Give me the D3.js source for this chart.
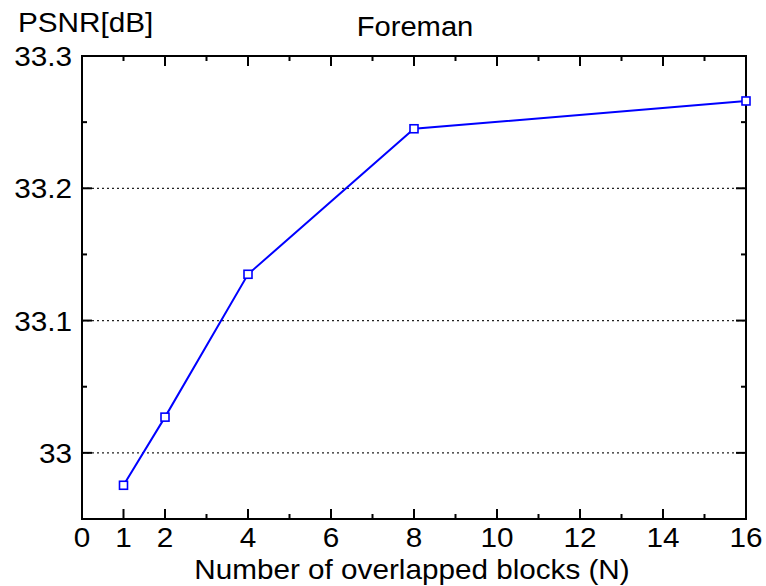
<!DOCTYPE html>
<html><head><meta charset="utf-8">
<script src="https://cdn.jsdelivr.net/npm/d3@7"></script>
<style>
body{margin:0;background:#fff;}
svg text{font-family:"Liberation Sans",Arial,sans-serif;fill:#000;}
</style></head>
<body><svg id="c" width="766" height="586"></svg>
<script>
const blocks = [1, 2, 4, 8, 16];
const psnr = [32.9755, 33.027, 33.135, 33.245, 33.266];
const xTickLabels = [0, 1, 2, 4, 6, 8, 10, 12, 14, 16];
const xMinorTicks = d3.range(0, 17, 1);
const yTickLabels = [33, 33.1, 33.2, 33.3];
const yTickText = ["33", "33.1", "33.2", "33.3"];
const yMinorTicks = [32.95, 33.05, 33.15, 33.25];
const gridValues = [33, 33.1, 33.2];
const title = "Foreman";
const yTitle = "PSNR[dB]";
const xTitle = "Number of overlapped blocks (N)";

const svg = d3.select("#c");
const L = 82, R = 746, T = 56, B = 519;
const x = d3.scaleLinear().domain([0, 16]).range([L, R]);
const y = d3.scaleLinear().domain([32.95, 33.3]).range([B, T]);

function label(g, px, py, str, anchor, size, sx) {
  return g.append("text")
    .attr("transform", `translate(${px},${py}) scale(${sx},1)`)
    .attr("text-anchor", anchor).attr("font-size", size).text(str);
}

// grid
svg.append("g").selectAll("line").data(gridValues).join("line")
  .attr("x1", L).attr("x2", R).attr("y1", d => y(d)).attr("y2", d => y(d))
  .attr("stroke", "#222").attr("stroke-width", 1.3).attr("stroke-dasharray", "2,3");

// ticks
const tk = svg.append("g").attr("stroke", "#000").attr("stroke-width", 2);
const xMajorSet = new Set(xTickLabels);
xMinorTicks.forEach(v => {
  const lenB = xMajorSet.has(v) ? 10 : 5;
  const lenT = (v % 2 === 0) ? 10 : 5;
  tk.append("line").attr("x1", x(v)).attr("x2", x(v)).attr("y1", B).attr("y2", B - lenB);
  tk.append("line").attr("x1", x(v)).attr("x2", x(v)).attr("y1", T).attr("y2", T + lenT);
});
yTickLabels.forEach(v => {
  tk.append("line").attr("x1", L).attr("x2", L + 10).attr("y1", y(v)).attr("y2", y(v));
  tk.append("line").attr("x1", R).attr("x2", R - 10).attr("y1", y(v)).attr("y2", y(v));
});
yMinorTicks.forEach(v => {
  tk.append("line").attr("x1", L).attr("x2", L + 5).attr("y1", y(v)).attr("y2", y(v));
  tk.append("line").attr("x1", R).attr("x2", R - 5).attr("y1", y(v)).attr("y2", y(v));
});

// frame
svg.append("rect").attr("x", L).attr("y", T).attr("width", R - L).attr("height", B - T)
  .attr("fill", "none").attr("stroke", "#000").attr("stroke-width", 2);

// tick labels
const gx = svg.append("g");
xTickLabels.forEach(d => label(gx, x(d), 547, d, "middle", 27, 1.1));
const gy = svg.append("g");
yTickLabels.forEach((d, i) => label(gy, 72, y(d) + 10, yTickText[i], "end", 27, 1.1));

// line + markers
const pts = blocks.map((b, i) => [b, psnr[i]]);
svg.append("path").datum(pts)
  .attr("d", d3.line().x(d => x(d[0])).y(d => y(d[1])))
  .attr("fill", "none").attr("stroke", "#0000ff").attr("stroke-width", 2);
svg.append("g").selectAll("rect").data(pts).join("rect")
  .attr("x", d => x(d[0]) - 4).attr("y", d => y(d[1]) - 4)
  .attr("width", 8).attr("height", 8)
  .attr("fill", "#fff").attr("stroke", "#0000ff").attr("stroke-width", 1.6);

// titles
label(svg, 415, 36, title, "middle", 27, 1.08);
label(svg, 18, 32, yTitle, "start", 27, 1.1);
label(svg, 412, 579, xTitle, "middle", 28, 1.06);
</script></body></html>
